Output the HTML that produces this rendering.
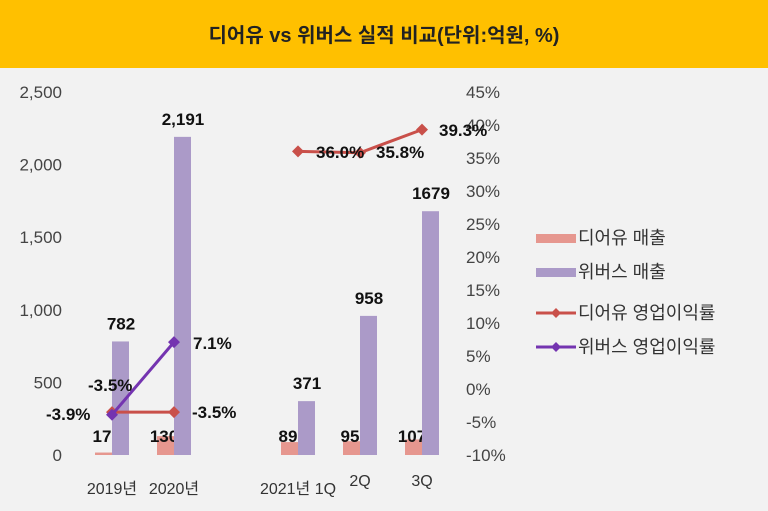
<!DOCTYPE html>
<html><head><meta charset="utf-8"><style>
body{margin:0;width:768px;height:511px;background:#f2f2f2;overflow:hidden;font-family:"Liberation Sans","Noto Sans CJK KR",sans-serif}
#title{position:absolute;left:0;top:0;width:768px;height:68px;background:#ffc000;text-align:center;line-height:72px;font-weight:bold;font-size:20px;color:#222}
svg{position:absolute;left:0;top:0}
</style></head><body>
<div id="title">디어유 vs 위버스 실적 비교(단위:억원, %)</div>
<svg id="c" width="768" height="511"></svg>
<script>
const categories=["2019년","2020년","","2021년 1Q","2Q","3Q"];
const dearuSales=[17,130,null,89,95,107];
const weverseSales=[782,2191,null,371,958,1679];
const dearuMargin=[-3.5,-3.5,null,36.0,35.8,39.3];
const weverseMargin=[-3.9,7.1,null,null,null,null];
const leftTicks=[0,500,1000,1500,2000,2500];
const rightTicks=[-10,-5,0,5,10,15,20,25,30,35,40,45];
const S="http://www.w3.org/2000/svg",svg=document.getElementById('c');
const yL=v=>455-v*(363/2500), yR=v=>455-(v+10)*(363/55), xC=i=>112+i*62;
function el(t,a,txt){const e=document.createElementNS(S,t);for(const k in a)e.setAttribute(k,a[k]);if(txt!=null)e.textContent=txt;svg.appendChild(e);return e;}
const F='"Liberation Sans","Noto Sans CJK KR",sans-serif';
leftTicks.forEach(v=>{const t=el('text',{x:62,y:yL(v)+6,'text-anchor':'end','font-size':17,fill:'#444','font-family':F},v.toLocaleString('en-US'));
});
rightTicks.forEach(v=>{const t=el('text',{x:466,y:yR(v)+6,'font-size':17,fill:'#444','font-family':F},v+'%');
});
categories.forEach((c,i)=>{if(!c)return;const y=(c==='2Q'||c==='3Q')?486:494;
const t=el('text',{x:xC(i),y:y,'text-anchor':'middle','font-size':16,fill:'#333','font-family':F},c);
});
categories.forEach((c,i)=>{
 if(dearuSales[i]!=null){const v=dearuSales[i];const r=el('rect',{x:xC(i)-17,y:yL(v),width:17,height:455-yL(v),fill:'#e6978f'});
 
 const t=el('text',{x:xC(i)-10,y:442,'text-anchor':'middle','font-size':17,'font-weight':'bold',fill:'#111','font-family':F},v);
 }
 if(weverseSales[i]!=null){const v=weverseSales[i];const r=el('rect',{x:xC(i),y:yL(v),width:17,height:455-yL(v),fill:'#ab9ac8'});
 
 const t=el('text',{x:xC(i)+9,y:yL(v)-12,'text-anchor':'middle','font-size':17,'font-weight':'bold',fill:'#111','font-family':F},v>=1000&&i<2?v.toLocaleString('en-US'):v);
 }
});
function line(arr,col,name,segs){segs.forEach(s=>{const p=s.map(i=>xC(i)+','+yR(arr[i])).join(' ');
 const l=el('polyline',{points:p,fill:'none',stroke:col,'stroke-width':3});
 s.forEach(i=>{const x=xC(i),y=yR(arr[i]);const m=el('polygon',{points:`${x},${y-6} ${x+6},${y} ${x},${y+6} ${x-6},${y}`,fill:col});
 });});}
line(dearuMargin,'#c9504a','dearu-margin',[[0,1],[3,4,5]]);
line(weverseMargin,'#7434b0','weverse-margin',[[0,1]]);
const ml=[[dearuMargin,0,88,391],[dearuMargin,1,192,418],[dearuMargin,3,316,158],[dearuMargin,4,376,158],[dearuMargin,5,439,136],[weverseMargin,0,46,420],[weverseMargin,1,193,349]];
ml.forEach(([a,i,x,y])=>{const t=el('text',{x:x,y:y,'font-size':17,'font-weight':'bold',fill:'#111','font-family':F},a[i].toFixed(1)+'%');
});
const leg=[['디어유 매출','#e6978f',0],['위버스 매출','#ab9ac8',0],['디어유 영업이익률','#c9504a',1],['위버스 영업이익률','#7434b0',1]];
const ly=[238,272,313,347];
leg.forEach((L,k)=>{const y=ly[k];
 if(L[2]){el('line',{x1:536,y1:y,x2:576,y2:y,stroke:L[1],'stroke-width':3});el('polygon',{points:`556,${y-5} 561,${y} 556,${y+5} 551,${y}`,fill:L[1]});}
 else el('rect',{x:536,y:y-4,width:40,height:9,fill:L[1]});
 const t=el('text',{x:578,y:y+6,'font-size':18,fill:'#333','font-family':F},L[0]);
 });
</script>
</body></html>
